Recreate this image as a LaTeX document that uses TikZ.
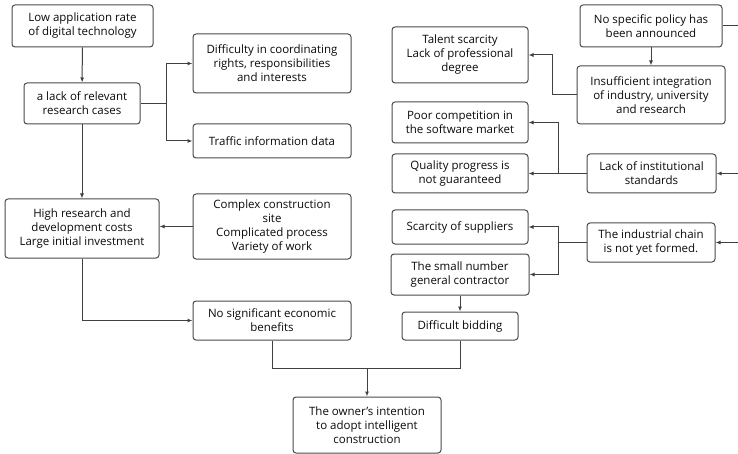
\documentclass[tikz,border=0pt]{standalone}
\usepackage{fontspec}
\setmainfont{Open Sans}
\usetikzlibrary{arrows.meta}
\definecolor{ln}{HTML}{404040}
\definecolor{bx}{HTML}{4A4A4A}
\definecolor{tx}{HTML}{0A0A0A}
\begin{document}
\begin{tikzpicture}[x=1pt,y=-1pt,
  box/.style={draw=bx, line width=1pt, rounded corners=3pt, inner sep=0pt, align=center, text=tx,
    font=\fontsize{11.5}{14}\selectfont},
  conn/.style={draw=ln, line width=1pt},
  arr/.style={conn, -{Latex[length=5pt,width=4pt]}}]
\useasboundingbox (0,0) rectangle (738,454);
\node[box, minimum width=141, minimum height=42] (low) at (82.5,26) {Low application rate\\of digital technology};
\node[box, minimum width=116, minimum height=41] (lack) at (82,103.5) {a lack of relevant\\research cases};
\node[box, minimum width=158, minimum height=59] (diff) at (272,63.5) {Difficulty in coordinating\\rights, responsibilities\\and interests};
\node[box, minimum width=158, minimum height=34] (traffic) at (272,141) {Traffic information data};
\node[box, minimum width=154, minimum height=59] (high) at (82,228.5) {High research and\\development costs\\Large initial investment};
\node[box, minimum width=158, minimum height=65] (complex) at (272,226.5) {Complex construction\\site\\Complicated process\\Variety of work};
\node[box, minimum width=158, minimum height=39] (nosig) at (272,320.5) {No significant economic\\benefits};
\node[box, minimum width=148, minimum height=56] (owner) at (367,425) {The owner's intention\\to adopt intelligent\\construction};
\node[box, minimum width=136, minimum height=56] (talent) at (460,55) {Talent scarcity\\Lack of professional\\degree};
\node[box, minimum width=136, minimum height=41] (poor) at (460,122.5) {Poor competition in\\the software market};
\node[box, minimum width=136, minimum height=39] (quality) at (460,173.5) {Quality progress is\\not guaranteed};
\node[box, minimum width=136, minimum height=34] (scarce) at (460,227) {Scarcity of suppliers};
\node[box, minimum width=138, minimum height=41] (small) at (460,274.5) {The small number\\general contractor};
\node[box, minimum width=116, minimum height=28] (bid) at (460,326) {Difficult bidding};
\node[box, minimum width=142, minimum height=42] (nospec) at (651,26) {No specific policy has\\been announced};
\node[box, minimum width=148, minimum height=58] (insuff) at (651,95) {Insufficient integration\\of industry, university\\and research};
\node[box, minimum width=129, minimum height=39] (inst) at (651.5,173.5) {Lack of institutional\\standards};
\node[box, minimum width=128, minimum height=39] (chain) at (651,242.5) {The industrial chain\\is not yet formed.};
\coordinate (j) at (367,368);
\coordinate (lb) at (166,103.5);
\coordinate (ib) at (558,173.5);
\coordinate (cb) at (558,242.5);
\coordinate (r1) at (745,26);
\coordinate (r2) at (745,173.5);
\coordinate (r3) at (745,242.5);
% left column
\draw[arr] (low) -- (lack);
\draw[conn] (lack.east) -- (lb);
\draw[arr] (lb) |- (diff.west);
\draw[arr] (lb) |- (traffic.west);
\draw[arr] (lack) -- (high);
\draw[arr] (complex.west) -- (high.east |- complex.west);
\draw[arr] (high.south) |- (nosig.west);
\draw[conn] (nosig.south) |- (j);
\draw[conn] (bid.south) |- (j);
\draw[arr] (j) -- (owner.north);
% right side
\draw[conn] (nospec.east) -- (r1);
\draw[arr] (nospec) -- (insuff);
\draw[arr] (insuff.west) -- ++(-24,0) |- (talent.east);
\draw[arr] (r2) -- (inst.east);
\draw[arr] (inst.west) -- (quality.east);
\draw[arr] (ib) |- (poor.east);
\draw[arr] (r3) -- (chain.east);
\draw[conn] (chain.west) -- (cb);
\draw[arr] (cb) |- (scarce.east);
\draw[arr] (cb) |- (small.east);
\draw[arr] (small) -- (bid);
\end{tikzpicture}
\end{document}
